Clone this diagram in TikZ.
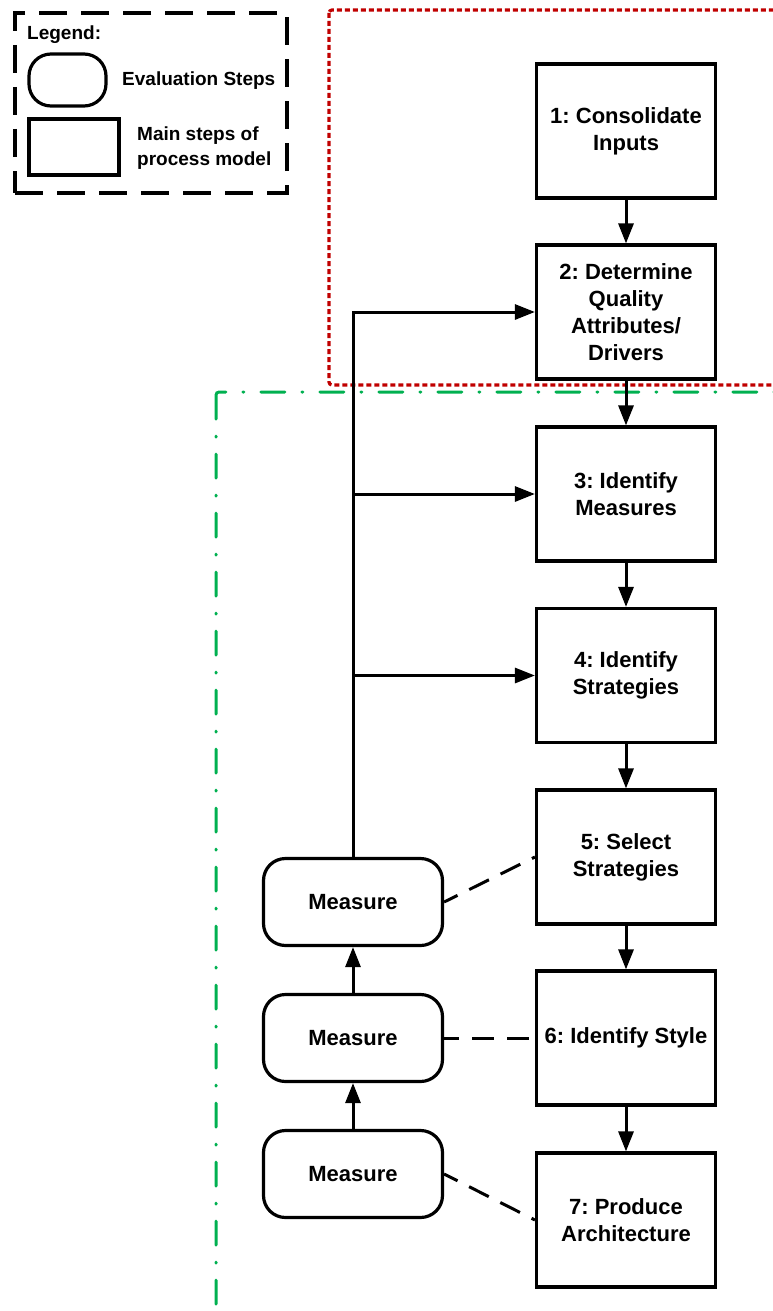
\documentclass[tikz,border=0pt]{standalone}
\usepackage{fontspec}
\setmainfont{Liberation Sans}
\usetikzlibrary{arrows.meta}
\definecolor{redline}{RGB}{192,0,0}
\definecolor{greenline}{RGB}{0,176,80}
\frenchspacing
\begin{document}
\begin{tikzpicture}[x=1pt,y=-1pt,
  mainfont/.style={font=\fontsize{22}{27}\selectfont\bfseries},
  legfont/.style={font=\fontsize{19}{25}\selectfont\bfseries},
  stepbox/.style={draw,line width=3.2pt,minimum width=179pt,minimum height=134pt,
    inner sep=0pt,align=center,mainfont},
  evalbox/.style={draw,line width=3.2pt,rounded corners=22pt,minimum width=179pt,
    minimum height=87pt,inner sep=0pt,mainfont},
  flow/.style={line width=3pt,-{Triangle[length=20pt,width=15pt]}},
  link/.style={line width=3pt,dash pattern=on 22pt off 13pt,dash phase=7pt},
]
\useasboundingbox (0,0) rectangle (773,1311);

% phase frames (run off the page edge)
\begin{scope}
  \clip (0,0) rectangle (773,1311);
  \draw[redline,line width=3.2pt,dash pattern=on 5pt off 3pt,rounded corners=3pt]
    (329,10) rectangle (820,385);
  \draw[greenline,line width=3pt,line cap=round,
        dash pattern=on 24pt off 17pt on 1pt off 17pt,rounded corners=3pt]
    (216,392) rectangle (820,1360);
\end{scope}

% legend
\node[draw,line width=3.2pt,dash pattern=on 28pt off 14pt,minimum width=272pt,
      minimum height=180pt,inner sep=0pt] (legend) at (151,103) {};
\node[anchor=base west,inner sep=0pt,legfont] (legtitle) at (27,40) {Legend:};
\node[draw,line width=3.2pt,rounded corners=22pt,minimum width=77pt,
      minimum height=52pt,inner sep=0pt] (legeval) at (67.5,80) {};
\node[draw,line width=3.2pt,minimum width=90pt,minimum height=56pt,
      inner sep=0pt] (legstep) at (74,147) {};
\node[anchor=west,inner sep=0pt,legfont] (legevaltxt) at (122,81) {Evaluation Steps};
\node[anchor=west,inner sep=0pt,align=left,legfont] (legsteptxt) at (137,148)
  {Main steps of\\process model};

% main process steps
\node[stepbox] (s1) at (626,131) {1: Consolidate\\Inputs};
\node[stepbox] (s2) at (626,312) {2: Determine\\Quality\\Attributes/\\Drivers};
\node[stepbox] (s3) at (626,494) {3: Identify\\Measures};
\node[stepbox] (s4) at (626,675.5) {4: Identify\\Strategies};
\node[stepbox] (s5) at (626,857) {5: Select\\Strategies};
\node[stepbox] (s6) at (626,1038) {6: Identify Style};
\node[stepbox] (s7) at (626,1220) {7: Produce\\Architecture};

% evaluation steps
\node[evalbox] (m1) at (353,902) {Measure};
\node[evalbox] (m2) at (353,1038) {Measure};
\node[evalbox] (m3) at (353,1174) {Measure};

% flow between steps
\draw[flow] (s1) -- (s2);
\draw[flow] (s2) -- (s3);
\draw[flow] (s3) -- (s4);
\draw[flow] (s4) -- (s5);
\draw[flow] (s5) -- (s6);
\draw[flow] (s6) -- (s7);
\draw[flow] (m3) -- (m2);
\draw[flow] (m2) -- (m1);

% feedback from measuring
\draw[flow] (m1.north) |- (s2.west);
\draw[flow] (m1.north |- s3.west) -- (s3.west);
\draw[flow] (m1.north |- s4.west) -- (s4.west);

% associations
\draw[link] (m1.east) -- (s5.west);
\draw[link] (m2.east) -- (s6.west);
\draw[link] (m3.east) -- (s7.west);
\end{tikzpicture}
\end{document}
